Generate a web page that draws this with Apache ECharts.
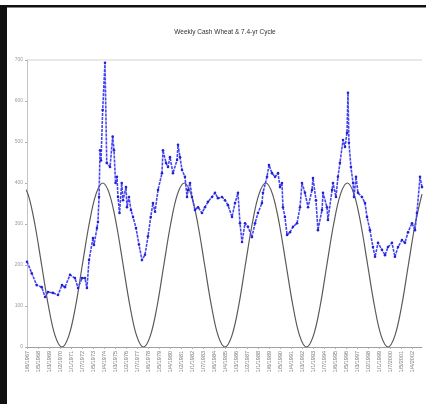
<!DOCTYPE html>
<html>
<head>
<meta charset="utf-8">
<script src="https://cdn.jsdelivr.net/npm/echarts@6/dist/echarts.min.js"></script>
<style>
  html, body { margin: 0; padding: 0; background: #fff; }
  #chart { width: 428px; height: 404px; }
</style>
</head>
<body>
<div id="chart"></div>
<script>
// Weekly cash wheat (cents/bu), sampled, with decimal-year positions
const priceYears = [
  1967.00, 1967.43, 1967.88, 1968.34, 1968.64, 1968.91, 1969.36, 1969.82, 1970.18, 1970.45,
  1970.91, 1971.36, 1971.64, 1972.00, 1972.27, 1972.45, 1972.64, 1973.00, 1973.09, 1973.36,
  1973.45, 1973.55, 1973.64, 1973.73, 1973.88, 1974.09, 1974.25, 1974.55, 1974.79, 1974.91,
  1975.05, 1975.18, 1975.27, 1975.41, 1975.61, 1975.73, 1976.00, 1976.09, 1976.27, 1976.45,
  1976.64, 1976.91, 1977.18, 1977.45, 1977.73, 1978.00, 1978.25, 1978.45, 1978.64, 1978.91,
  1979.27, 1979.36, 1979.64, 1979.82, 1980.00, 1980.27, 1980.64, 1980.73, 1980.91, 1981.09,
  1981.36, 1981.55, 1981.64, 1981.82, 1982.00, 1982.27, 1982.55, 1982.91, 1983.18, 1983.45,
  1983.82, 1984.09, 1984.36, 1984.73, 1985.00, 1985.27, 1985.64, 1985.91, 1986.18, 1986.36,
  1986.55, 1986.82, 1987.09, 1987.45, 1987.73, 1988.00, 1988.36, 1988.45, 1988.82, 1989.00,
  1989.27, 1989.55, 1989.82, 1990.00, 1990.18, 1990.27, 1990.45, 1990.64, 1990.91, 1991.18,
  1991.55, 1991.82, 1992.00, 1992.27, 1992.55, 1992.91, 1993.00, 1993.27, 1993.45, 1993.82,
  1993.91, 1994.27, 1994.36, 1994.73, 1994.82, 1995.09, 1995.27, 1995.45, 1995.73, 1995.91,
  1996.09, 1996.18, 1996.27, 1996.45, 1996.64, 1996.73, 1996.91, 1997.09, 1997.45, 1997.73,
  1997.91, 1998.18, 1998.45, 1998.64, 1998.91, 1999.27, 1999.55, 1999.82, 2000.18, 2000.45,
  2000.73, 2001.09, 2001.36, 2001.64, 2002.00, 2002.27, 2002.45, 2002.73, 2002.91
];
const priceValues = [
  208, 180, 151, 146, 122, 134, 132, 127, 151, 146,
  176, 168, 144, 168, 168, 144, 212, 266, 249, 290,
  305, 366, 480, 455, 578, 693, 449, 439, 513, 480,
  400, 415, 366, 327, 400, 358, 390, 341, 366, 334,
  317, 290, 250, 212, 225, 270, 317, 351, 330, 383,
  424, 480, 449, 439, 463, 424, 456, 493, 463, 432,
  415, 366, 383, 400, 366, 334, 341, 327, 341, 354,
  366, 376, 363, 366, 358, 346, 317, 351, 376, 302,
  256, 302, 293, 268, 302, 327, 351, 376, 415, 444,
  424, 415, 424, 390, 400, 341, 317, 273, 280, 293,
  302, 341, 400, 376, 341, 383, 412, 358, 285, 334,
  376, 341, 310, 383, 400, 366, 415, 449, 505, 488,
  522, 620, 498, 439, 400, 366, 415, 376, 366, 351,
  317, 285, 244, 220, 254, 237, 224, 244, 254, 220,
  244, 261, 254, 280, 302, 285, 327, 415, 390
];

// 7.4-year cycle curve: peaks, troughs and intermediate readings
const cycleYears = [
  1966.48, 1967.09, 1967.71, 1968.33, 1968.95, 1969.56, 1970.18, 1970.80, 1971.42, 1972.03,
  1972.65, 1973.27, 1973.89, 1974.50, 1975.12, 1975.74, 1976.36, 1976.97, 1977.59, 1978.21,
  1978.83, 1979.44, 1980.06, 1980.68, 1981.30, 1981.91, 1982.53, 1983.15, 1983.77, 1984.38,
  1985.00, 1985.62, 1986.24, 1986.85, 1987.47, 1988.09, 1988.71, 1989.32, 1989.94, 1990.56,
  1991.18, 1991.79, 1992.41, 1993.03, 1993.65, 1994.26, 1994.88, 1995.50, 1996.12, 1996.73,
  1997.35, 1997.97, 1998.59, 1999.20, 1999.82, 2000.44, 2001.06, 2001.67, 2002.29, 2002.91
];
const cycleValues = [
  400, 373, 300, 200, 100, 27, 0, 27, 100, 200,
  300, 373, 400, 373, 300, 200, 100, 27, 0, 27,
  100, 200, 300, 373, 400, 373, 300, 200, 100, 27,
  0, 27, 100, 200, 300, 373, 400, 373, 300, 200,
  100, 27, 0, 27, 100, 200, 300, 373, 400, 373,
  300, 200, 100, 27, 0, 27, 100, 200, 300, 373
];

// Date tick labels, one per year starting 1967
const firstYear = 1967;
const xTickLabels = [
  '1/6/1967', '1/5/1968', '1/3/1969', '1/2/1970', '1/1/1971', '1/7/1972', '1/5/1973', '1/4/1974',
  '1/3/1975', '1/2/1976', '1/7/1977', '1/6/1978', '1/5/1979', '1/4/1980', '1/2/1981', '1/1/1982',
  '1/7/1983', '1/6/1984', '1/4/1985', '1/3/1986', '1/2/1987', '1/1/1988', '1/6/1989', '1/5/1990',
  '1/4/1991', '1/3/1992', '1/1/1993', '1/7/1994', '1/6/1995', '1/5/1996', '1/3/1997', '1/2/1998',
  '1/1/1999', '1/7/2000', '1/5/2001', '1/4/2002'
];
const yTickLabels = ['0', '100', '200', '300', '400', '500', '600', '700'];

const chartTitle = 'Weekly Cash Wheat & 7.4-yr Cycle';

const pricePairs = priceYears.map((y, i) => [y, priceValues[i]]);
const cyclePairs = cycleYears.map((y, i) => [y, cycleValues[i]]);

const chart = echarts.init(document.getElementById('chart'), null, { renderer: 'canvas' });

chart.setOption({
  animation: false,
  backgroundColor: '#ffffff',
  title: {
    text: chartTitle,
    left: 220,
    textAlign: 'center',
    top: 24,
    textStyle: { fontFamily: 'Liberation Sans, Arial, sans-serif', fontSize: 6.5, fontWeight: 'normal', color: '#333' }
  },
  grid: { left: 27, right: 6, top: 60, bottom: 57, containLabel: false },
  xAxis: {
    type: 'value',
    min: firstYear,
    max: 2002.91,
    interval: 1,
    axisLine: { lineStyle: { color: '#a0a0a0', width: 1 } },
    axisTick: { length: 2, lineStyle: { color: '#b0b0b0' } },
    splitLine: { show: false },
    axisLabel: {
      rotate: 90,
      margin: 4,
      fontSize: 5.5,
      color: '#7a7a7a',
      fontFamily: 'Liberation Sans, Arial, sans-serif',
      showMaxLabel: false,
      formatter: function (v) {
        if (Math.abs(v - Math.round(v)) > 1e-6) return '';
        return xTickLabels[Math.round(v) - firstYear] || '';
      }
    }
  },
  yAxis: {
    type: 'value',
    min: 0,
    max: 700,
    interval: 100,
    axisLine: { show: true, lineStyle: { color: '#c4c4c4', width: 1 } },
    axisTick: { show: true, length: 2, lineStyle: { color: '#b0b0b0' } },
    splitLine: {
      show: true,
      lineStyle: {
        color: ['rgba(0,0,0,0)', 'rgba(0,0,0,0)', 'rgba(0,0,0,0)', 'rgba(0,0,0,0)',
                'rgba(0,0,0,0)', 'rgba(0,0,0,0)', 'rgba(0,0,0,0)', '#e2e2e2'],
        width: 1.5
      }
    },
    axisLabel: {
      margin: 4,
      fontSize: 5,
      color: '#9a9a9a',
      fontFamily: 'Liberation Sans, Arial, sans-serif',
      formatter: function (v) { return yTickLabels[Math.round(v / 100)] || ''; }
    }
  },
  series: [
    {
      name: 'Cycle',
      type: 'line',
      data: cyclePairs,
      smooth: 0.35,
      showSymbol: false,
      clip: true,
      lineStyle: { color: '#5a5a5a', width: 1.2 },
      z: 2
    },
    {
      name: 'Cash Wheat',
      type: 'line',
      data: pricePairs,
      showSymbol: true,
      symbol: 'circle',
      symbolSize: 2.6,
      clip: true,
      itemStyle: { color: '#2222d4' },
      lineStyle: { color: '#4646f0', width: 1.6, type: [3, 1] },
      z: 3
    }
  ],
  graphic: [
    { type: 'rect', shape: { x: 0, y: 5, width: 7, height: 399 }, style: { fill: '#111' }, silent: true },
    { type: 'rect', shape: { x: 0, y: 5, width: 426, height: 2.5 }, style: { fill: '#111' }, silent: true }
  ]
});
</script>
</body>
</html>
